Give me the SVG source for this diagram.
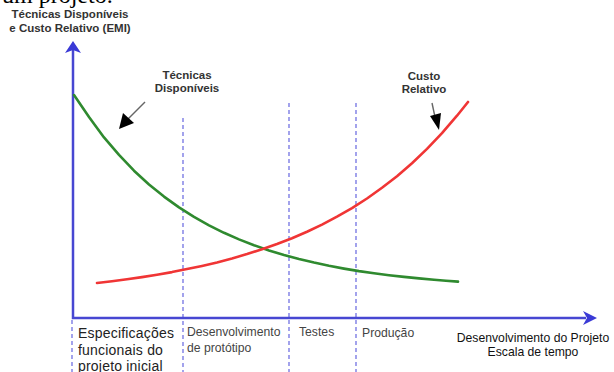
<svg xmlns="http://www.w3.org/2000/svg" width="614" height="372" viewBox="0 0 614 372">
<style>
.t{font-family:"Liberation Sans",Arial,sans-serif}
.b{font-weight:bold;font-size:11.5px;fill:#333;text-anchor:middle}
.lab{font-size:12.2px;fill:#444}
.dash{stroke:#7c7ce4;stroke-width:1.4;stroke-dasharray:4 3;fill:none}
.axis{stroke:#4747d2;stroke-width:2.5;fill:none}
</style>
<rect width="614" height="372" fill="#fff"/>
<text x="2" y="3" font-family="'Liberation Serif','Times New Roman',serif" font-size="24" fill="#000">um projeto.</text>
<g id="ylabel">
<text class="t b" x="70" y="18">Técnicas Disponíveis</text>
<text class="t b" x="70" y="32">e Custo Relativo (EMI)</text>
</g>
<g id="dashes">
<line class="dash" x1="72" y1="320" x2="72" y2="372"/>
<line class="dash" x1="183" y1="118" x2="183" y2="372"/>
<line class="dash" x1="289" y1="103" x2="289" y2="372"/>
<line class="dash" x1="356" y1="103" x2="356" y2="372"/>
</g>
<g id="axes">
<polyline class="axis" points="73,49 73,318 586,318"/>
<path d="M73,41 L81,53 L73,50 L65,53 Z" fill="#3a3ad6"/>
<path d="M597,318 L583,311 L587,318 L583,325 Z" fill="#3a3ad6"/>
</g>
<g id="curves" fill="none" stroke-width="2.6" stroke-linecap="round" stroke-linejoin="round">
<polyline stroke="#2f8a2f" points="74,95 89,117 104,137.4 119,154.9 134,170.7 149,184.5 164,196.6 179,207.4 194,216.9 209,225.3 224,232.8 239,239.4 254,245.2 269,250.4 284,255 299,259 314,262.6 329,265.8 344,268.6 359,271.1 374,273.2 389,275.2 404,276.9 419,278.4 434,279.7 446,280.7 458,281.6"/>
<polyline stroke="#f03535" points="97,283 112,281.2 127,279.3 142,277.1 157,274.7 172,272.1 187,269.1 202,265.9 217,262.4 232,258.5 247,254.1 262,249.3 277,244 292,238.2 307,231.7 322,224.6 337,216.7 352,208.1 367,198.5 382,187.8 397,176.2 412,163.2 427,148.9 442,133.2 457,115.7 468,102"/>
</g>
<g id="tecnicas">
<text class="t b" x="187" y="79">Técnicas</text>
<text class="t b" x="187" y="92">Disponíveis</text>
<line x1="145" y1="102" x2="128" y2="119" stroke="#666" stroke-width="1.4"/>
<path d="M119,129 L123,113 L134,123 Z" fill="#000"/>
</g>
<g id="custo">
<text class="t b" x="424" y="80">Custo</text>
<text class="t b" x="424" y="93">Relativo</text>
<line x1="432" y1="103" x2="435" y2="117" stroke="#666" stroke-width="1.4"/>
<path d="M439,130 L430,116 L441,113 Z" fill="#000"/>
</g>
<g id="phases">
<text class="t" x="78" y="338" font-size="14" fill="#222" letter-spacing="0.2">Especificações</text>
<text class="t" x="78" y="355" font-size="14" fill="#222" letter-spacing="0.2">funcionais do</text>
<text class="t" x="78" y="371" font-size="14" fill="#222" letter-spacing="0.2">projeto inicial</text>
<text class="t lab" x="187" y="336">Desenvolvimento</text>
<text class="t lab" x="187" y="352">de protótipo</text>
<text class="t lab" x="299" y="336">Testes</text>
<text class="t lab" x="362" y="337">Produção</text>
</g>
<g id="xlabel">
<text class="t" x="533" y="342" font-size="12.2" fill="#111" text-anchor="middle">Desenvolvimento do Projeto</text>
<text class="t" x="533" y="356" font-size="12.2" fill="#111" text-anchor="middle">Escala de tempo</text>
</g>
</svg>
